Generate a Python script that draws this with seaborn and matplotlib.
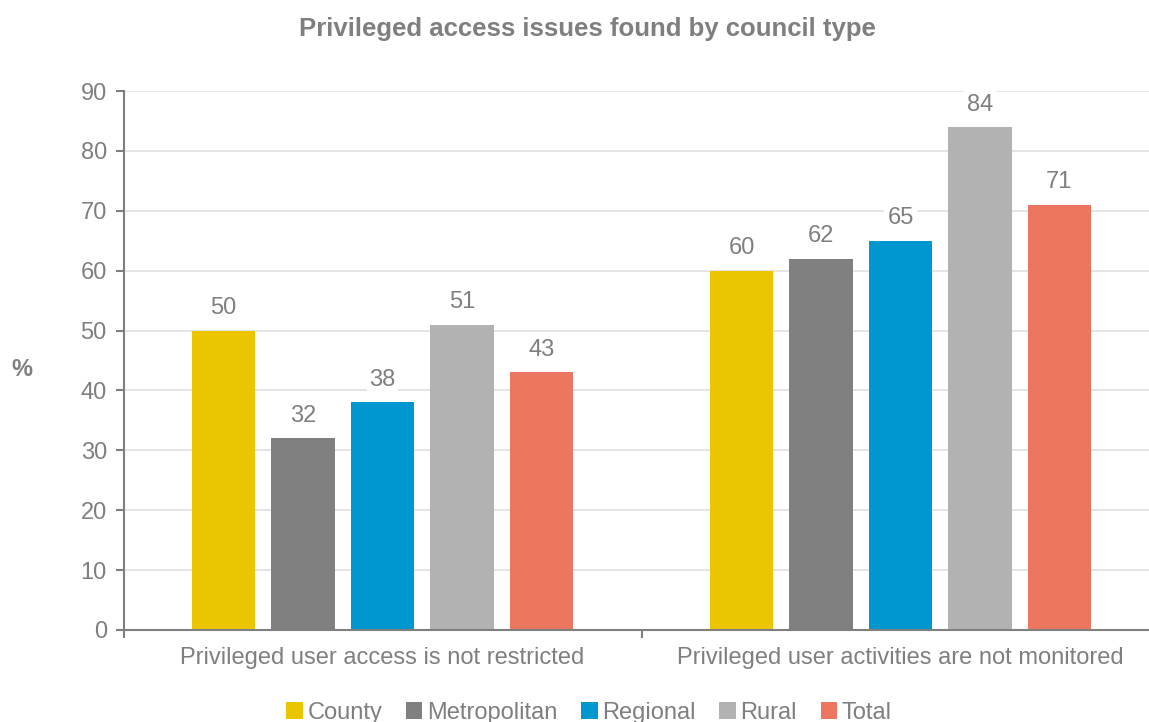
import pandas as pd
import matplotlib
matplotlib.use("Agg")
import matplotlib.pyplot as plt
import seaborn as sns

# Datos
categorias = ["Privileged user access is not restricted",
              "Privileged user activities are not monitored"]
tipos = ["County", "Metropolitan", "Regional", "Rural", "Total"]
county = [50, 60]
metropolitan = [32, 62]
regional = [38, 65]
rural = [51, 84]
total = [43, 71]
colores = ["#EBC600", "#808080", "#0096D0", "#B2B2B2", "#EC7660"]

valores = [county, metropolitan, regional, rural, total]
filas = []
for tipo, vals in zip(tipos, valores):
    for cat, v in zip(categorias, vals):
        filas.append({"Issue": cat, "Council": tipo, "Pct": v})
df = pd.DataFrame(filas)

sns.set_style("white")
plt.rcParams['font.family'] = ['Liberation Sans', 'DejaVu Sans']
gris = "#7F7F7F"
tam = 17

fig = plt.figure(figsize=(11.49, 7.22), dpi=100)
ax = fig.add_axes([123.5 / 1149, 92 / 722, 1036 / 1149, 539 / 722])

sns.barplot(data=df, x="Issue", y="Pct", hue="Council", palette=colores,
            width=0.767, gap=0.2, ax=ax, legend=True, saturation=1, linewidth=0)

ax.set_ylim(0, 90)
ax.set_xlim(-0.5, 1.5)
ax.set_yticks(range(0, 91, 10))
ax.yaxis.grid(True, color="#E0E0E0", linewidth=1.2)
ax.set_axisbelow(True)

# Etiquetas de datos con fondo blanco
for cont in ax.containers:
    for bar in cont:
        h = bar.get_height()
        ax.text(bar.get_x() + bar.get_width() / 2, h + 1.9, f"{h:.0f}",
                ha="center", va="bottom", fontsize=tam, color=gris,
                bbox=dict(facecolor="white", edgecolor="none", pad=2))

for s in ["top", "right"]:
    ax.spines[s].set_visible(False)
ax.spines["left"].set_color(gris)
ax.spines["bottom"].set_color(gris)
ax.spines["left"].set_linewidth(1.5)
ax.spines["bottom"].set_linewidth(1.5)

# ticks del eje x entre categorias
ax.set_xticks([0, 1])
ax.set_xticklabels(categorias, fontsize=tam, color=gris)
ax.tick_params(axis="x", length=0, pad=12)
ax.set_xticks([-0.5, 0.5], minor=True)
ax.tick_params(axis="x", which="minor", bottom=True, length=6, width=1.5,
               color=gris, direction="out")
ax.tick_params(axis="y", left=True, length=6, width=1.5, color=gris, labelsize=tam,
               labelcolor=gris, direction="out", pad=6)

ax.set_xlabel("")
ax.set_ylabel("")
fig.text(22 / 1149, 1 - 370 / 722, "%", fontsize=tam, fontweight="bold",
         color=gris, ha="center", va="center")
fig.text(587.5 / 1149, 1 - 29 / 722, "Privileged access issues found by council type",
         fontsize=18.5, fontweight="bold", color=gris, ha="center", va="center")

ax.legend_.remove()
handles, labels = ax.get_legend_handles_labels()
fig.legend(handles, labels, loc="center", bbox_to_anchor=(589 / 1149, 1 - 713 / 722),
           ncol=5, frameon=False, fontsize=tam, labelcolor=gris,
           handlelength=0.7, handleheight=0.7, handletextpad=0.2, columnspacing=1.0)

fig.savefig("out.png", dpi=100)
